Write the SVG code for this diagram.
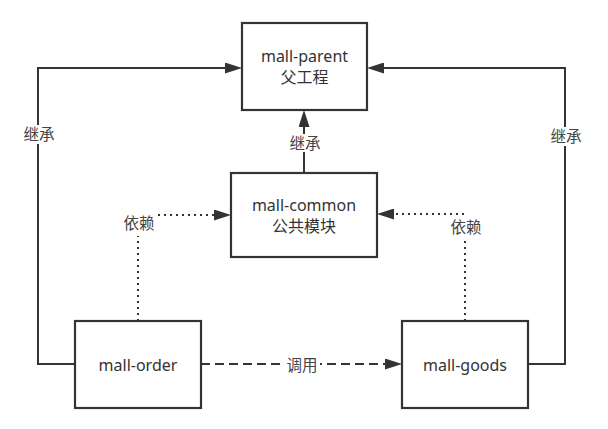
<svg xmlns="http://www.w3.org/2000/svg" width="608" height="429" viewBox="0 0 608 429">
<style>
.box{fill:#fff;stroke:#333;stroke-width:2.2}
.t{font-family:"Noto Sans","Noto Sans CJK SC",sans-serif;font-size:16px;fill:#333;text-anchor:middle}
.lbl{font-family:"Noto Sans CJK SC","Noto Sans",sans-serif;font-size:15.5px;fill:#444;text-anchor:middle}
.ln{fill:none;stroke:#333;stroke-width:2}
.dot{stroke-dasharray:2 4}
.dash{stroke-dasharray:9 5}
.bg{fill:#fff}
</style>
<defs>
<marker id="arr" viewBox="0 0 17 11" refX="14" refY="5.5" markerWidth="17" markerHeight="11" markerUnits="userSpaceOnUse" orient="auto">
<path d="M0,0 L17,5.5 L0,11 Z" fill="#333"/>
</marker>
</defs>
<g id="connectors">
<path class="ln" d="M75,364 H38 V68 H239" marker-end="url(#arr)"/>
<path class="ln" d="M528,364 H565 V68 H370" marker-end="url(#arr)"/>
<path class="ln" d="M304,173 V113" marker-end="url(#arr)"/>
<path class="ln dot" d="M138,321 V215 H228" marker-end="url(#arr)"/>
<path class="ln dot" d="M465,321 V214 H380" marker-end="url(#arr)"/>
<path class="ln dash" d="M201,364 H399" marker-end="url(#arr)"/>
<rect class="bg" x="22" y="125" width="33" height="19"/>
<text class="lbl" x="39" y="140">继承</text>
<rect class="bg" x="549" y="127" width="33" height="19"/>
<text class="lbl" x="566" y="142">继承</text>
<rect class="bg" x="288" y="134" width="33" height="18"/>
<text class="lbl" x="305" y="149">继承</text>
<rect class="bg" x="122" y="212" width="35" height="24"/>
<text class="lbl" x="139" y="229">依赖</text>
<rect class="bg" x="449" y="217" width="34" height="21"/>
<text class="lbl" x="466" y="233">依赖</text>
<rect class="bg" x="285" y="355" width="35" height="19"/>
<text class="lbl" x="302" y="371">调用</text>
</g>
<g id="mall-parent">
<rect class="box" x="242" y="23" width="125" height="87"/>
<text class="t" x="304.5" y="62"><tspan x="304.5">mall-parent</tspan><tspan x="304.5" dy="21">父工程</tspan></text>
</g>
<g id="mall-common">
<rect class="box" x="231" y="173" width="146" height="84"/>
<text class="t" x="304" y="211"><tspan x="304">mall-common</tspan><tspan x="304" dy="21">公共模块</tspan></text>
</g>
<g id="mall-order">
<rect class="box" x="75" y="321" width="126" height="87"/>
<text class="t" x="138" y="370.5">mall-order</text>
</g>
<g id="mall-goods">
<rect class="box" x="402" y="321" width="126" height="87"/>
<text class="t" x="465" y="370.5">mall-goods</text>
</g>
</svg>
